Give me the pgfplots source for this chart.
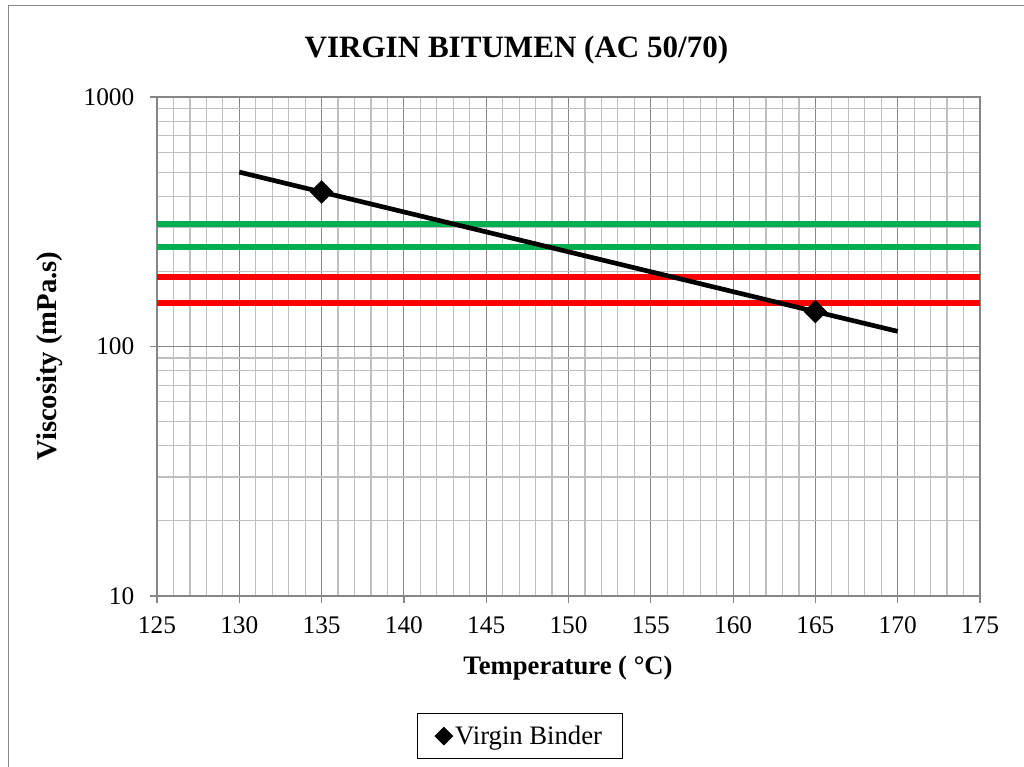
\documentclass[border=0pt]{standalone}
\usepackage{fontspec}
\setmainfont{Liberation Serif}
\usepackage{pgfplots}
\pgfplotsset{compat=1.18}
\definecolor{majgrid}{HTML}{868686}
\definecolor{mingrid}{HTML}{BFBFBF}
\definecolor{xlgreen}{HTML}{00B050}
\definecolor{xlred}{HTML}{FF0000}
\begin{document}
\begin{tikzpicture}
\useasboundingbox (-117.75pt,-128.25pt) rectangle (650.25pt,447pt);
\draw[color=majgrid, line width=1.2pt] (-111.4pt,-130pt) -- (-111.4pt,442.9pt) -- (652pt,442.9pt);
\begin{axis}[
  at={(0,0)}, anchor=south west,
  scale only axis, width=617.25pt, height=374.25pt,
  xmin=125, xmax=175, ymode=log, ymin=10, ymax=1000,
  xtick={125,130,...,175}, minor x tick num=4,
  ytick={10,100,1000}, yticklabels={10,100,1000},
  tick pos=left,
  grid=both,
  major grid style={color=majgrid, line width=0.8pt},
  minor grid style={color=mingrid, line width=0.9pt},
  axis line style={color=majgrid, line width=0.9pt},
  tick style={color=majgrid, line width=0.9pt},
  tick align=outside, major tick length=5.5pt, minor tick length=0pt,
  /pgf/number format/assume math mode=true,
  ticklabel style={font=\fontsize{19}{22}\selectfont, text=black},
  xticklabel style={yshift=-6.5pt},
  yticklabel style={xshift=-8pt},
  legend style={at={(0.441,-0.2806)}, anchor=center, draw=black, line width=0.75pt,
    font=\fontsize{20}{22}\selectfont, inner xsep=13pt, inner ysep=7pt},
  legend cell align=left,
]
\addplot[color=xlgreen, line width=4.5pt, forget plot] coordinates {(125,310) (175,310)};
\addplot[color=xlgreen, line width=4.5pt, forget plot] coordinates {(125,250) (175,250)};
\addplot[color=xlred, line width=4.5pt, forget plot] coordinates {(125,190) (175,190)};
\addplot[color=xlred, line width=4.5pt, forget plot] coordinates {(125,150) (175,150)};
\addplot[color=black, line width=3.5pt, forget plot] coordinates {(130,500) (135,416) (165,138) (170,115)};
\addplot[only marks, mark=square*, mark size=6pt, mark options={rotate=45, fill=black, draw=black},
  legend image post style={mark size=4.6pt}] coordinates {(135,416) (165,138)};
\addlegendentry{Virgin Binder}
\end{axis}
\node[anchor=base, font=\fontsize{23.3}{26}\selectfont\bfseries] at (269.6pt,403.5pt) {VIRGIN BITUMEN (AC 50/70)};
\node[anchor=base, font=\fontsize{20}{24}\selectfont\bfseries] at (308.25pt,-58.5pt) {Temperature ( °C)};
\node[anchor=base, rotate=90, font=\fontsize{21.5}{24}\selectfont\bfseries] at (-75pt,180pt) {Viscosity (mPa.s)};
\end{tikzpicture}
\end{document}
